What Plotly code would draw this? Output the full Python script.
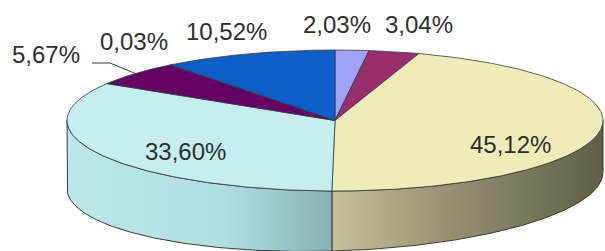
import numpy as np
import plotly.graph_objects as go

# ---- data ----
labels = ["2,03%", "3,04%", "45,12%", "33,60%", "5,67%", "0,03%", "10,52%"]
values = [2.03, 3.04, 45.12, 33.60, 5.67, 0.03, 10.52]

# ---- styles ----
top_colors = ["#A1A1F5", "#982E6B", "#F0ECB9", "#C5EEF0", "#650066", "#FF8080", "#0D5EC6"]
wall_scales = {
    2: [[0, "#C8C09C"], [0.45, "#948F70"], [1, "#5F5E46"]],
    3: [[0, "#BDE7E9"], [0.6, "#B0DFE1"], [1, "#88B1B4"]],
}
label_xy = [(337, 24), (419, 24), (510, 144), (185, 151), (46, 54), (134, 41), (226, 31)]
W, H = 605, 251
CX, CY, RX, RY = 335, 120.5, 268, 70.5
OUTLINE = "#3a3a3a"


def depth(theta):
    return 60 - 8 * np.sin(np.radians(theta))


def pt(theta, drop=0.0):
    t = np.radians(theta)
    return CX + RX * np.sin(t), CY - RY * np.cos(t) + drop


total = sum(values)
bounds = np.concatenate([[0], np.cumsum(values) / total * 360])

fig = go.Figure()

# side walls (front half only: 90..270 degrees)
for i in range(len(values)):
    a, b = max(bounds[i], 90), min(bounds[i + 1], 270)
    if b <= a:
        continue
    th = np.linspace(a, b, 120)
    xt, yt = pt(th)
    xb, yb = pt(th[::-1], depth(th[::-1]))
    xs = np.concatenate([xt, xb, xt[:1]])
    ys = np.concatenate([yt, yb, yt[:1]])
    kw = {}
    if i in wall_scales:
        kw["fillgradient"] = dict(type="horizontal", colorscale=wall_scales[i])
    else:
        kw["fillcolor"] = top_colors[i]
    fig.add_trace(go.Scatter(x=xs, y=ys, mode="lines", fill="toself",
                             line=dict(color=OUTLINE, width=1), hoverinfo="skip", **kw))

# top faces
for i in range(len(values)):
    th = np.linspace(bounds[i], bounds[i + 1], max(3, int((bounds[i + 1] - bounds[i]) * 2)))
    xe, ye = pt(th)
    xs = np.concatenate([[CX], xe, [CX]])
    ys = np.concatenate([[CY], ye, [CY]])
    fig.add_trace(go.Scatter(x=xs, y=ys, mode="lines", fill="toself", fillcolor=top_colors[i],
                             line=dict(color=OUTLINE, width=0.8), hoverinfo="skip"))

# leader line for the 5,67% label to the middle of its slice
mid = (bounds[4] + bounds[5]) / 2
ex, ey = pt(mid)
lx, ly = label_xy[4]
fig.add_trace(go.Scatter(x=[lx + 46, lx + 64, ex], y=[ly + 9, ly + 9, ey], mode="lines",
                         line=dict(color=OUTLINE, width=1), hoverinfo="skip"))

for txt, (x, y) in zip(labels, label_xy):
    fig.add_annotation(x=x, y=y, xref="x", yref="y", text=txt, showarrow=False,
                       font=dict(family="Liberation Sans, Arial, sans-serif", size=24, color="#2e2e2e"))

fig.update_layout(
    width=W, height=H, margin=dict(l=0, r=0, t=0, b=0),
    paper_bgcolor="white", plot_bgcolor="white", showlegend=False,
    xaxis=dict(range=[0, W], visible=False, fixedrange=True),
    yaxis=dict(range=[H, 0], visible=False, fixedrange=True),
)
fig.write_html("out.html", config={"displayModeBar": False},
               post_script="document.body.style.margin='0';document.body.style.overflow='hidden';")
